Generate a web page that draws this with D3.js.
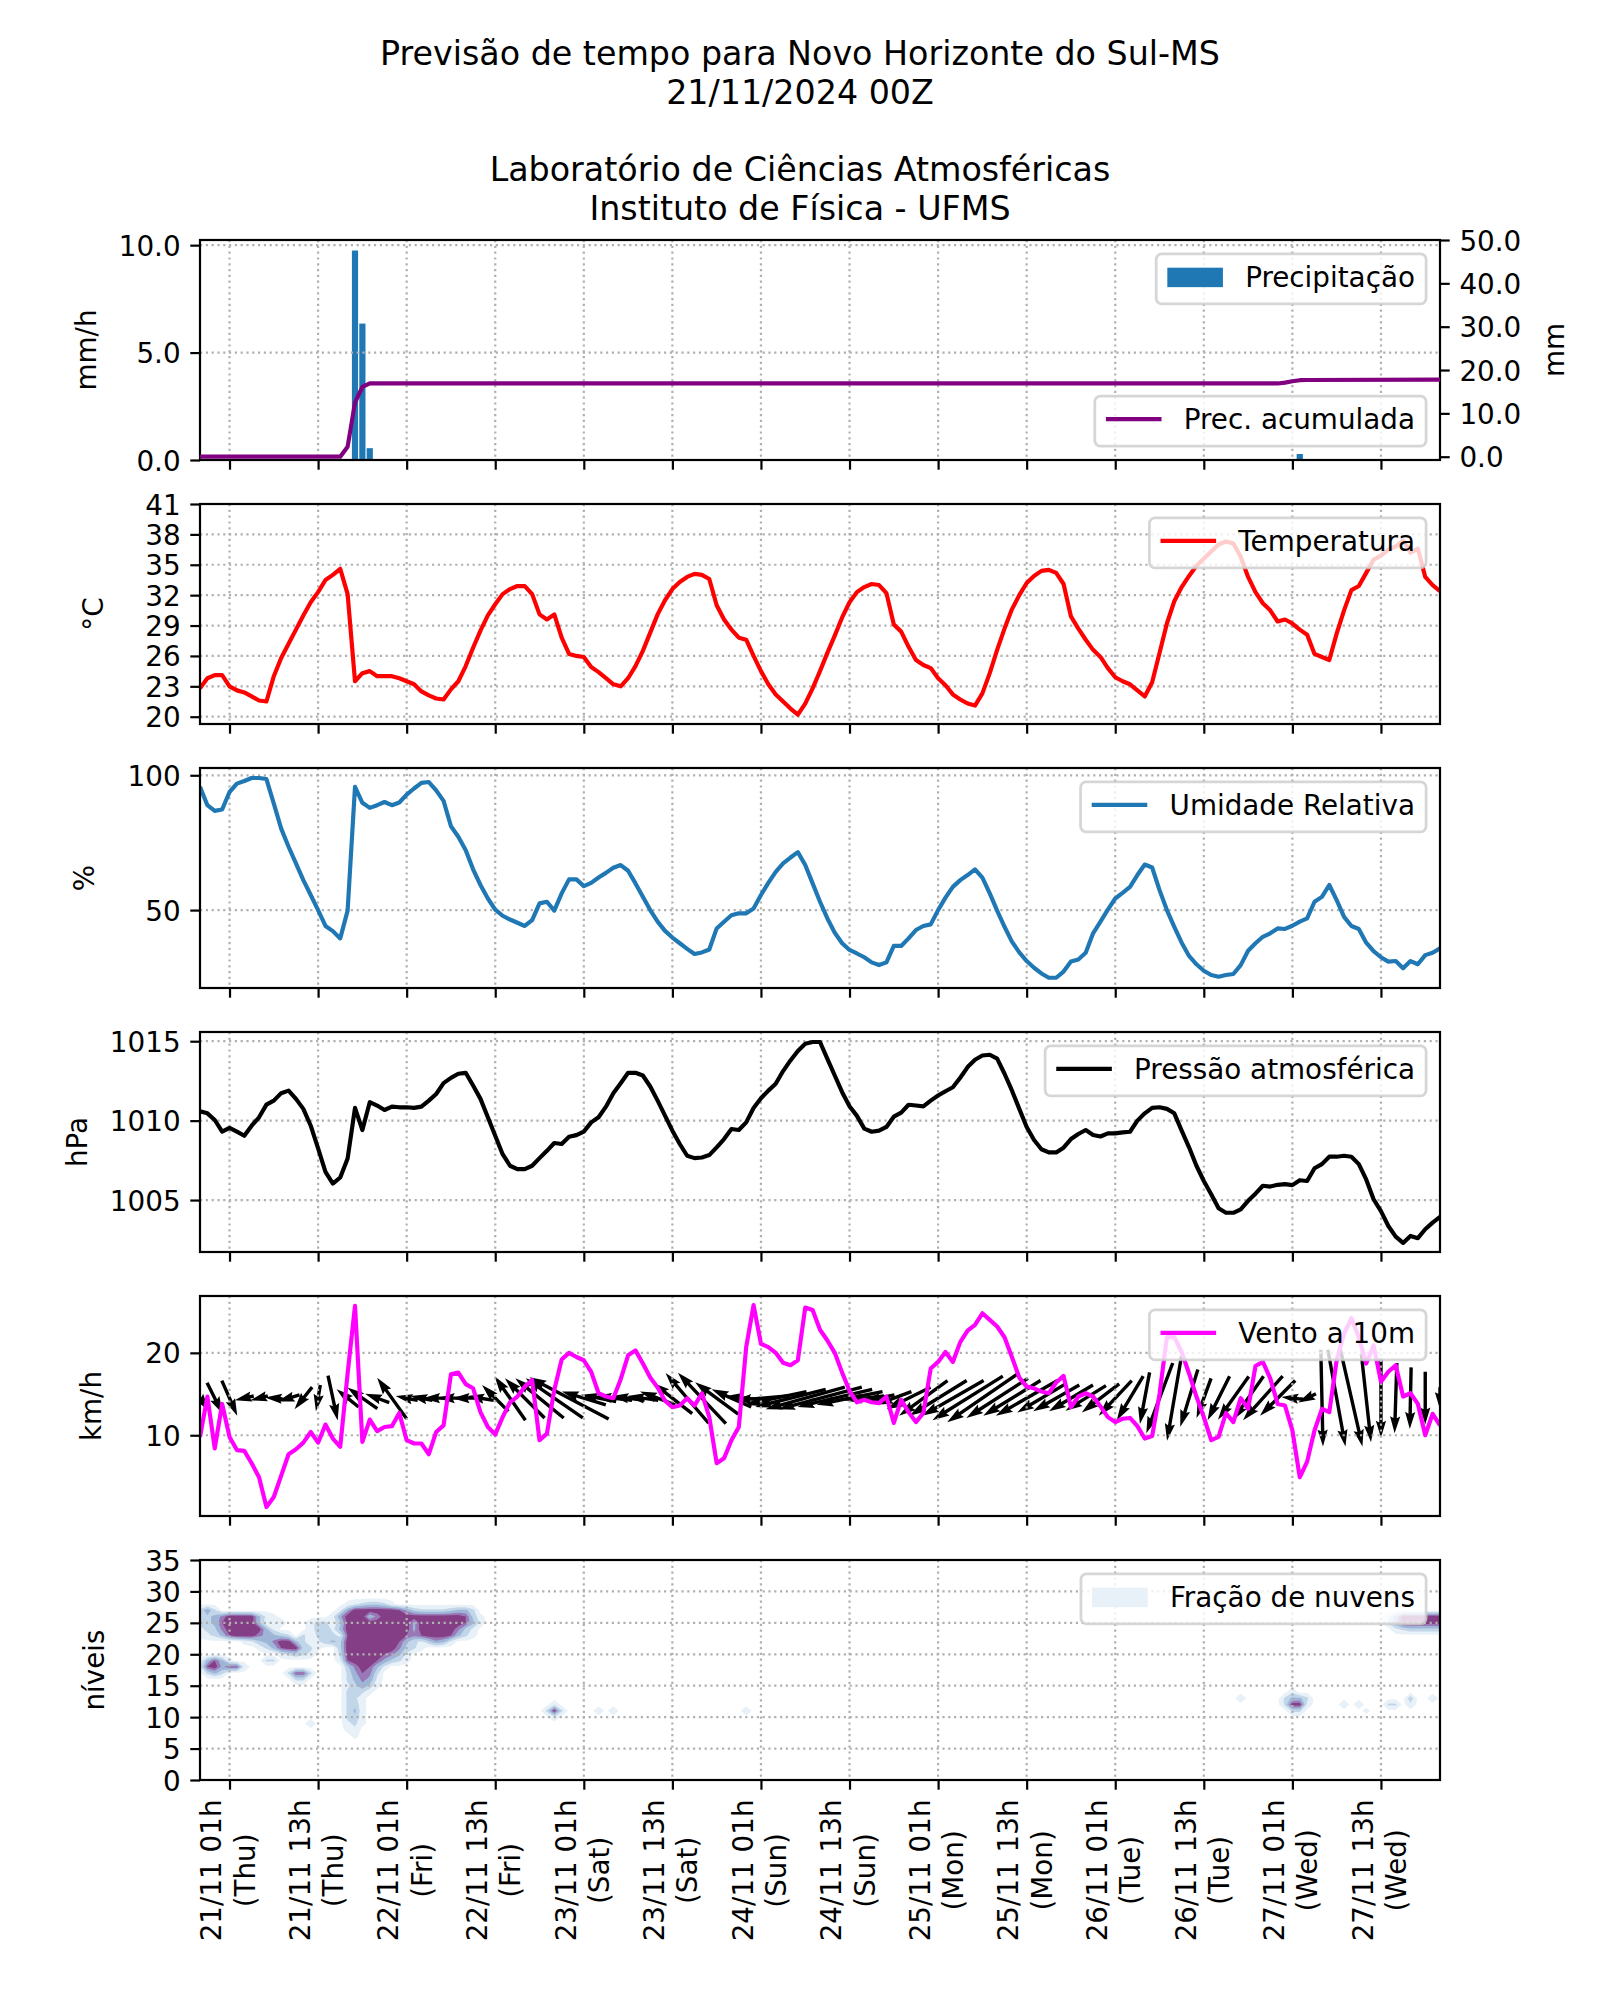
<!DOCTYPE html>
<html>
<head>
<meta charset="utf-8">
<script src="https://cdn.jsdelivr.net/npm/d3@7"></script>
<style>
  body { margin: 0; background: #fff; }
  text { font-family: "DejaVu Sans", sans-serif; fill: #000; }
</style>
</head>
<body>
<svg id="chart" width="1600" height="2000" xmlns="http://www.w3.org/2000/svg"></svg>
<script>
// ---- data (hourly, starting 20/11 21h local) ----
var startTime = "2024-11-20 21";
var xTickTimes = ["2024-11-21 01", "2024-11-21 13", "2024-11-22 01", "2024-11-22 13",
  "2024-11-23 01", "2024-11-23 13", "2024-11-24 01", "2024-11-24 13", "2024-11-25 01",
  "2024-11-25 13", "2024-11-26 01", "2024-11-26 13", "2024-11-27 01", "2024-11-27 13"];

var titleLines = ["Previsão de tempo para Novo Horizonte do Sul-MS", "21/11/2024 00Z", "",
  "Laboratório de Ciências Atmosféricas", "Instituto de Física - UFMS"];

// precipitation (mm/h) at the hours where a bar is visible
var precipHours = [21, 22, 23, 149];
var precipVals = [9.75, 6.35, 0.55, 0.28];
// accumulated precipitation (mm), vertices of the line
var acumHours = [0, 19, 20, 21, 22, 23, 146, 147, 148, 149, 150, 168];
var acumVals = [0, 0, 2.3, 12.5, 16.1, 16.9, 16.9, 17.1, 17.4, 17.65, 17.7, 17.8];

var temperatura = [22.8, 23.8, 24.1, 24.1, 23.0, 22.6, 22.4, 22.0, 21.6, 21.5,
  24.0, 25.8, 27.2, 28.6, 30.0, 31.3, 32.3, 33.5, 34.0, 34.6,
  32.1, 23.5, 24.3, 24.5, 24.0, 24.0, 24.0, 23.8, 23.5, 23.2,
  22.5, 22.1, 21.8, 21.7, 22.7, 23.5, 25.0, 26.8, 28.5, 30.0,
  31.1, 32.1, 32.6, 32.9, 32.9, 32.1, 30.1, 29.6, 30.1, 27.8,
  26.2, 26.0, 25.9, 24.9, 24.4, 23.8, 23.2, 23.0, 23.8, 25.0,
  26.5, 28.3, 30.1, 31.5, 32.6, 33.3, 33.8, 34.1, 34.0, 33.6,
  31.0, 29.6, 28.6, 27.8, 27.6, 26.0, 24.5, 23.2, 22.2, 21.5,
  20.8, 20.2, 21.3, 22.8, 24.5, 26.3, 28.0, 29.8, 31.3, 32.3,
  32.8, 33.1, 33.0, 32.2, 29.1, 28.4, 26.9, 25.6, 25.1, 24.8,
  23.8, 23.1, 22.2, 21.7, 21.3, 21.1, 22.3, 24.3, 26.6, 28.7,
  30.6, 32.0, 33.2, 33.9, 34.4, 34.5, 34.2, 33.1, 29.9, 28.7,
  27.6, 26.6, 25.9, 24.8, 23.9, 23.5, 23.2, 22.6, 22.0, 23.4,
  26.3, 29.2, 31.4, 32.8, 33.9, 34.9, 35.6, 36.3, 37.0, 37.3,
  37.1, 35.8, 33.8, 32.3, 31.2, 30.5, 29.4, 29.6, 29.2, 28.6,
  28.1, 26.2, 25.9, 25.6, 28.2, 30.5, 32.5, 32.9, 34.2, 35.5,
  35.9, 36.5, 36.8, 37.4, 36.2, 36.6, 33.8, 33.0, 32.4];

var umidade = [95.7, 88.9, 86.8, 87.3, 93.8, 96.9, 97.9, 99.0, 99.0, 98.6,
  89.5, 80.2, 73.5, 67.3, 61.1, 55.6, 50.0, 44.1, 42.2, 39.5,
  49.8, 95.7, 89.8, 87.9, 88.9, 90.1, 88.9, 89.9, 92.8, 95.1,
  97.2, 97.5, 94.4, 90.5, 81.1, 77.2, 72.2, 65.1, 59.3, 54.3,
  50.2, 47.9, 46.5, 45.3, 44.1, 46.3, 52.5, 53.1, 49.8, 56.2,
  61.4, 61.4, 58.9, 60.1, 62.1, 63.8, 65.7, 66.7, 64.6, 59.9,
  54.9, 50.0, 45.7, 42.3, 39.8, 37.7, 35.6, 33.7, 34.3, 35.4,
  43.2, 45.7, 48.1, 48.8, 48.8, 50.6, 55.6, 60.1, 64.2, 67.3,
  69.5, 71.5, 66.7, 59.9, 53.1, 46.9, 41.6, 37.7, 35.2, 33.9,
  32.5, 30.6, 29.6, 30.6, 36.7, 36.7, 39.5, 42.6, 44.1, 44.7,
  50.0, 54.6, 58.6, 61.1, 63.0, 65.1, 62.0, 56.2, 49.8, 43.8,
  38.3, 34.3, 31.1, 28.6, 26.5, 24.9, 24.9, 27.2, 30.9, 31.7,
  34.2, 41.4, 45.7, 50.2, 54.3, 56.4, 58.6, 63.0, 66.9, 65.8,
  57.4, 50.0, 43.8, 37.9, 33.0, 29.9, 27.5, 25.9, 25.3, 25.9,
  26.3, 29.6, 34.9, 37.7, 40.1, 41.4, 43.2, 43.0, 44.2, 45.7,
  46.9, 53.1, 54.9, 59.3, 53.7, 47.5, 44.1, 43.0, 37.9, 34.8,
  32.5, 30.9, 31.1, 28.4, 31.1, 29.9, 33.3, 34.2, 35.8];

var pressao = [1010.59, 1010.46, 1010.04, 1009.31, 1009.54, 1009.31, 1009.05, 1009.68, 1010.21, 1011.01,
  1011.26, 1011.73, 1011.89, 1011.37, 1010.74, 1009.68, 1008.25, 1006.78, 1006.04, 1006.42,
  1007.62, 1010.8, 1009.41, 1011.16, 1010.95, 1010.67, 1010.88, 1010.84, 1010.84, 1010.8,
  1010.88, 1011.26, 1011.68, 1012.36, 1012.69, 1012.95, 1013.01, 1012.21, 1011.37, 1010.21,
  1009.05, 1007.89, 1007.16, 1006.95, 1006.95, 1007.16, 1007.64, 1008.1, 1008.59, 1008.53,
  1008.99, 1009.09, 1009.31, 1009.89, 1010.21, 1010.88, 1011.73, 1012.36, 1013.01, 1013.01,
  1012.84, 1012.15, 1011.26, 1010.32, 1009.37, 1008.53, 1007.79, 1007.64, 1007.68, 1007.83,
  1008.32, 1008.84, 1009.47, 1009.41, 1009.89, 1010.8, 1011.41, 1011.89, 1012.32, 1013.12,
  1013.79, 1014.38, 1014.84, 1014.95, 1014.95, 1013.89, 1012.84, 1011.79, 1010.9, 1010.3,
  1009.5, 1009.3, 1009.37, 1009.6, 1010.25, 1010.5, 1011.0, 1010.95, 1010.9, 1011.26,
  1011.58, 1011.85, 1012.1, 1012.7, 1013.37, 1013.83, 1014.1, 1014.15, 1013.9, 1012.95,
  1011.9, 1010.74, 1009.6, 1008.78, 1008.2, 1008.0, 1008.0, 1008.3, 1008.84, 1009.16,
  1009.41, 1009.1, 1009.0, 1009.2, 1009.2, 1009.26, 1009.3, 1010.0, 1010.46, 1010.8,
  1010.84, 1010.74, 1010.46, 1009.37, 1008.32, 1007.16, 1006.2, 1005.37, 1004.48, 1004.2,
  1004.2, 1004.42, 1004.95, 1005.4, 1005.9, 1005.85, 1005.96, 1006.0, 1005.94, 1006.25,
  1006.2, 1007.0, 1007.26, 1007.73, 1007.73, 1007.79, 1007.73, 1007.26, 1006.3, 1005.05,
  1004.3, 1003.37, 1002.7, 1002.3, 1002.74, 1002.6, 1003.16, 1003.58, 1003.94];

var vento = [9.8, 14.7, 8.4, 13.8, 9.8, 8.2, 8.1, 6.6, 4.9, 1.3,
  2.5, 5.1, 7.7, 8.3, 9.1, 10.4, 9.1, 11.3, 9.6, 8.6,
  17.5, 25.7, 9.2, 11.9, 10.5, 11.0, 11.1, 12.7, 9.4, 9.0,
  9.0, 7.7, 10.4, 11.2, 17.4, 17.6, 16.2, 15.7, 12.8, 11.0,
  10.1, 12.2, 14.0, 14.7, 15.9, 16.7, 9.4, 10.2, 15.5, 19.2,
  20.0, 19.5, 19.1, 17.7, 15.1, 14.7, 14.5, 16.8, 19.7, 20.3,
  18.7, 17.0, 15.8, 14.2, 13.4, 13.6, 14.5, 13.6, 15.1, 12.2,
  6.6, 7.2, 9.4, 11.0, 20.7, 25.8, 21.1, 20.7, 20.0, 18.8,
  18.5, 19.1, 25.5, 25.2, 22.8, 21.5, 20.0, 17.6, 15.4, 14.0,
  14.3, 14.0, 13.9, 14.7, 11.5, 14.3, 12.8, 11.6, 12.7, 18.1,
  18.9, 20.1, 18.9, 21.3, 22.7, 23.4, 24.8, 24.0, 23.2, 21.9,
  19.5, 17.0, 15.9, 15.7, 15.3, 15.1, 16.4, 17.2, 13.4, 14.7,
  15.1, 14.7, 13.5, 12.2, 11.6, 12.0, 12.1, 11.1, 9.6, 9.9,
  15.0, 21.9, 21.9, 20.1, 17.5, 14.7, 12.2, 9.4, 9.8, 12.7,
  11.6, 14.5, 13.2, 18.4, 18.9, 16.9, 13.8, 13.6, 10.6, 4.9,
  6.8, 10.6, 13.2, 12.8, 19.1, 22.3, 24.2, 21.9, 18.7, 20.9,
  16.5, 17.7, 18.5, 14.7, 15.1, 13.8, 10.0, 12.6, 11.2];

// wind vector components drawn as arrows, one every 2 hours
var quiverStep = 2;
var ventoU = [4.0, 3.5, 3.5, -4.3, -4, -4, -5, -4, -1, 2.2,
  -5, -6.8, -5.5, -6.7, -5, -5, -6, -6, -6, -6,
  -6, -7, -9, -11, -13, -18, -10, -8, -8.5, -7.5,
  -7, -8, -9, -9.8, -10.9, -9.8, -9, -9, -12, -14,
  -16, -18, -19, -17, -15, -9, -7, -8, -10, -11,
  -13, -14, -16, -16, -14, -13, -14, -11, -10.5, -10,
  -9.2, -8.5, -7.5, -6, -2.2, -6, -3.3, -4, -3.3, -5,
  -7, -7, -9, -8, -5, -4, 0.5, 4, 5, 2.2,
  0, -0.5, -0.3, 0, 0];
var ventoV = [-5.7, -7, -8, -1, -1, 0.3, -1.5, -5, -6, -10.2,
  4, 4.8, 2, 9.3, 1, 1, 0, 0, 0, 1,
  6, 10, 9, 9, 9, 9.5, 3, 1.5, 1, 1,
  1, 3, 7, 11.4, 11.6, 7.2, 4, 1, -1, -3,
  -4, -5, -5, -4, -3, -1, -1.5, -3, -5, -8,
  -8, -8, -10, -11, -9, -8, -8, -6.5, -6, -6,
  -5.7, -6.5, -8, -10, -11.7, -16, -19.3, -13, -9, -10,
  -9.8, -10, -10, -8, 0.5, -2, -22, -22, -22, -20,
  -18, -16, -14, -12, -5];

// cloud fraction (tenths) by model level: [level, first hour, values hour by hour]
var cloudRuns = [
  [27, 0, "3630"], [26, 0, "34579999521"],
  [25, 0, "3458999951"], [25, 10, "22"], [25, 15, "2331"],
  [24, 0, "23479999952"], [24, 15, "2342"],
  [23, 0, "1235899976543"], [23, 14, "313432"],
  [22, 6, "1245799531"], [22, 16, "2454"],
  [21, 8, "135899431"], [20, 11, "23432"],
  [19, 0, "15851"], [19, 9, "33"], [18, 0, "2896882"],
  [17, 1, "353"], [17, 12, "3883"], [16, 13, "33"],
  [28, 20, "1234431"],
  [27, 19, "2699999986433334553"],
  [26, 18, "269995799999999999841"],
  [25, 19, "49999999996999999852"],
  [24, 19, "59999999996999997420"],
  [23, 20, "899999998789998531"],
  [22, 20, "999999985324652"],
  [21, 19, "499999997431"],
  [20, 19, "3999998752"],
  [19, 19, "2899986431"],
  [18, 20, "479852"], [17, 20, "36873"], [16, 20, "35762"], [15, 20, "24641"],
  [14, 20, "3431"], [13, 20, "331"], [12, 20, "341"], [11, 20, "351"],
  [10, 20, "341"], [9, 15, "2"], [9, 20, "231"], [8, 20, "12"], [7, 21, "1"],
  [11, 47, "393"], [10, 48, "2"], [12, 48, "2"],
  [11, 54, "2"], [11, 56, "2"], [11, 74, "2"], [13, 141, "2"],
  [14, 148, "2"], [13, 147, "3553"], [12, 147, "3992"], [11, 148, "33"],
  [12, 155, "2"], [12, 157, "2"], [11, 158, "1"],
  [12, 161, "33"], [13, 164, "4"], [12, 164, "2"], [13, 167, "2"],
  [26, 161, "25999999"], [25, 161, "36999999"], [24, 162, "2344444"]
];
var cloudLevels = [0.5, 2.5, 4.5, 6.5, 8];
var cloudColors = ["#e9f1f8", "#c2d6ea", "#9fb5d8", "#9a77b6", "#843e85"];

// ---- layout ----
var svg = d3.select("#chart");
svg.append("rect").attr("width", 1600).attr("height", 2000).attr("fill", "#fff");

var FS = 27.8, LW = 4.17, TICK = 9.7, PAD = 9.7;
var L = 200, R = 1440, PH = 220;
var tops = [240, 504, 768, 1032, 1296, 1560];

var parseT = d3.timeParse("%Y-%m-%d %H");
var t0 = parseT(startTime);
var x = d3.scaleTime().domain([t0, d3.timeHour.offset(t0, 168)]).range([L, R]);
function hx(h) { return x(new Date(t0.getTime() + h * 3600000)); }
var ticksT = xTickTimes.map(parseT);

titleLines.forEach(function (s, i) {
  svg.append("text").attr("x", 800).attr("y", 65 + i * 38.75)
    .attr("text-anchor", "middle").attr("font-size", 33.3).text(s);
});

function makePanel(i, domain) {
  var top = tops[i], bot = top + PH;
  var y = d3.scaleLinear().domain(domain).range([bot, top]);
  var cid = "clip" + i;
  svg.append("clipPath").attr("id", cid).append("rect")
    .attr("x", L).attr("y", top).attr("width", R - L).attr("height", PH);
  var base = svg.append("g");
  return {
    top: top, bot: bot, y: y,
    under: base.append("g").attr("clip-path", "url(#" + cid + ")"),
    grid: base.append("g"),
    over: base.append("g").attr("clip-path", "url(#" + cid + ")"),
    frame: base.append("g")
  };
}

function styleAxis(ax) {
  ax.attr("font-size", FS).attr("font-family", "DejaVu Sans");
  ax.select(".domain").remove();
  ax.selectAll(".tick line").attr("stroke", "#000").attr("stroke-width", 2.2);
  ax.selectAll(".tick text").attr("dy", "0.36em").attr("fill", "#000");
}

function finishPanel(p, yTicks, fmt, ylabel, labelX, last) {
  yTicks.forEach(function (v) {
    p.grid.append("line").attr("x1", L).attr("x2", R).attr("y1", p.y(v)).attr("y2", p.y(v))
      .attr("stroke", "#b0b0b0").attr("stroke-width", 2.2).attr("stroke-dasharray", "2.2,3.6");
  });
  ticksT.forEach(function (t) {
    p.grid.append("line").attr("x1", x(t)).attr("x2", x(t)).attr("y1", p.top).attr("y2", p.bot)
      .attr("stroke", "#b0b0b0").attr("stroke-width", 2.2).attr("stroke-dasharray", "2.2,3.6");
  });
  p.frame.append("rect").attr("x", L).attr("y", p.top).attr("width", R - L).attr("height", PH)
    .attr("fill", "none").attr("stroke", "#000").attr("stroke-width", 2.2);
  var ay = p.frame.append("g").attr("transform", "translate(" + L + ",0)")
    .call(d3.axisLeft(p.y).tickValues(yTicks).tickFormat(fmt).tickSize(TICK).tickPadding(PAD));
  styleAxis(ay);
  var ax = p.frame.append("g").attr("transform", "translate(0," + p.bot + ")")
    .call(d3.axisBottom(x).tickValues(ticksT).tickFormat("").tickSize(TICK));
  styleAxis(ax);
  if (last) {
    var f1 = d3.timeFormat("%d/%m %Hh"), f2 = d3.timeFormat("(%a)");
    ax.selectAll(".tick").each(function (d) {
      var lab = d3.select(this).append("g")
        .attr("transform", "translate(0," + (TICK + PAD) + ") rotate(-90)");
      var a = lab.append("text").attr("y", -8.8).attr("font-size", FS).text(f1(d));
      var b = lab.append("text").attr("y", 24.6).attr("font-size", FS).text(f2(d));
      var w = Math.max(a.node().getComputedTextLength(), b.node().getComputedTextLength());
      lab.selectAll("text").attr("x", -w / 2).attr("text-anchor", "middle");
    });
  }
  svg.append("text").attr("transform", "translate(" + labelX + "," + (p.top + PH / 2) + ") rotate(-90)")
    .attr("text-anchor", "middle").attr("font-size", FS).text(ylabel);
}

function legend(p, type, color, label, where) {
  var g = svg.append("g");
  var txt = g.append("text").attr("font-size", FS).text(label);
  var tw = txt.node().getComputedTextLength();
  var pad = 0.4 * FS, hl = 2 * FS, htp = 0.8 * FS;
  var bw = 2 * pad + hl + htp + tw, bh = 2 * pad + FS;
  var right = R - 0.5 * FS;
  var top = where === "upper" ? p.top + 0.5 * FS : p.bot - 0.5 * FS - bh;
  var cy = top + bh / 2;
  g.insert("rect", "text").attr("x", right - bw).attr("y", top).attr("width", bw).attr("height", bh)
    .attr("rx", 5.6).attr("fill", "#fff").attr("fill-opacity", 0.8)
    .attr("stroke", "#cccccc").attr("stroke-opacity", 0.8).attr("stroke-width", 2.78);
  txt.attr("x", right - pad - tw).attr("y", cy + 7.7);
  var x0 = right - bw + pad;
  if (type === "line") {
    g.append("line").attr("x1", x0).attr("x2", x0 + hl).attr("y1", cy - 2).attr("y2", cy - 2)
      .attr("stroke", color).attr("stroke-width", LW);
  } else {
    g.append("rect").attr("x", x0).attr("y", cy - 1.5 - 0.35 * FS).attr("width", hl)
      .attr("height", 0.7 * FS).attr("fill", color);
  }
}

function drawLine(p, data, color) {
  p.over.append("path").datum(data)
    .attr("d", d3.line().x(function (d, i) { return hx(i); }).y(function (d) { return p.y(d); }))
    .attr("fill", "none").attr("stroke", color).attr("stroke-width", LW)
    .attr("stroke-linejoin", "round");
}

// ---- panel 1: precipitation ----
var p1 = makePanel(0, [0, 10.24]);
p1.under.selectAll("rect.bar").data(precipVals).join("rect")
  .attr("x", function (d, i) { return hx(precipHours[i] - 0.42); })
  .attr("width", function (d, i) { return hx(precipHours[i] + 0.42) - hx(precipHours[i] - 0.42); })
  .attr("y", function (d) { return p1.y(d); })
  .attr("height", function (d) { return p1.y(0) - p1.y(d); })
  .attr("fill", "#1f77b4");
finishPanel(p1, [0, 5, 10], d3.format(".1f"), "mm/h", 96, false);
legend(p1, "patch", "#1f77b4", "Precipitação", "upper");
var yAcum = d3.scaleLinear().domain([-0.76, 50]).range([p1.bot, p1.top]);
var acumG = svg.append("g").attr("clip-path", "url(#clip0)");
acumG.append("path").datum(acumVals)
  .attr("d", d3.line().x(function (d, i) { return hx(acumHours[i]); }).y(function (d) { return yAcum(d); }))
  .attr("fill", "none").attr("stroke", "#800080").attr("stroke-width", LW).attr("stroke-linejoin", "round");
var ar = svg.append("g").attr("transform", "translate(" + R + ",0)")
  .call(d3.axisRight(yAcum).tickValues([0, 10, 20, 30, 40, 50]).tickFormat(d3.format(".1f"))
    .tickSize(TICK).tickPadding(PAD));
styleAxis(ar);
svg.append("text").attr("transform", "translate(1564," + (p1.top + PH / 2) + ") rotate(-90)")
  .attr("text-anchor", "middle").attr("font-size", FS).text("mm");
legend(p1, "line", "#800080", "Prec. acumulada", "lower");

// ---- panel 2: temperature ----
var p2 = makePanel(1, [19.28, 41]);
drawLine(p2, temperatura, "#ff0000");
finishPanel(p2, [20, 23, 26, 29, 32, 35, 38, 41], d3.format("d"), "°C", 103, false);
legend(p2, "line", "#ff0000", "Temperatura", "upper");

// ---- panel 3: humidity ----
var p3 = makePanel(2, [21.1, 102.7]);
drawLine(p3, umidade, "#1f77b4");
finishPanel(p3, [50, 100], d3.format("d"), "%", 94, false);
legend(p3, "line", "#1f77b4", "Umidade Relativa", "upper");

// ---- panel 4: pressure ----
var p4 = makePanel(3, [1001.73, 1015.58]);
drawLine(p4, pressao, "#000000");
finishPanel(p4, [1005, 1010, 1015], d3.format("d"), "hPa", 87, false);
legend(p4, "line", "#000000", "Pressão atmosférica", "upper");

// ---- panel 5: wind ----
var p5 = makePanel(4, [0.2, 26.9]);
var K = 4.4, WQ = 3.4, arrowLevel = 14.5;
ventoU.forEach(function (u, k) {
  var h = k * quiverStep;
  var dx = u * K, dy = -ventoV[k] * K;
  var len = Math.sqrt(dx * dx + dy * dy);
  var s = Math.min(1, len / (5 * WQ));
  var w = WQ * s;
  var pts = [[0, -w / 2], [len - 4.5 * w, -w / 2], [len - 5 * w, -1.5 * w], [len, 0],
    [len - 5 * w, 1.5 * w], [len - 4.5 * w, w / 2], [0, w / 2]].map(function (q) {
      return [q[0] - len / 2, q[1]];
    });
  var ang = Math.atan2(dy, dx) * 180 / Math.PI;
  p5.under.append("path").attr("d", "M" + pts.join("L") + "Z")
    .attr("transform", "translate(" + hx(h) + "," + p5.y(arrowLevel) + ") rotate(" + ang + ")")
    .attr("fill", "#000");
});
drawLine(p5, vento, "#ff00ff");
finishPanel(p5, [10, 20], d3.format("d"), "km/h", 101, false);
legend(p5, "line", "#ff00ff", "Vento a 10m", "upper");

// ---- panel 6: cloud fraction ----
var p6 = makePanel(5, [0, 35]);
var NX = 169, NY = 36;
var grid = new Array(NX * NY).fill(0);
cloudRuns.forEach(function (r) {
  for (var k = 0; k < r[2].length; k++) grid[r[0] * NX + r[1] + k] = +r[2][k];
});
var cont = d3.contours().size([NX, NY]).thresholds(cloudLevels)(grid);
var proj = d3.geoTransform({ point: function (px, py) { this.stream.point(hx(px - 0.5), p6.y(py - 0.5)); } });
p6.under.selectAll("path.cl").data(cont).join("path")
  .attr("d", d3.geoPath(proj)).attr("fill", function (d, i) { return cloudColors[i]; });
finishPanel(p6, [0, 5, 10, 15, 20, 25, 30, 35], d3.format("d"), "níveis", 104, true);
legend(p6, "patch", cloudColors[0], "Fração de nuvens", "upper");
</script>
</body>
</html>
